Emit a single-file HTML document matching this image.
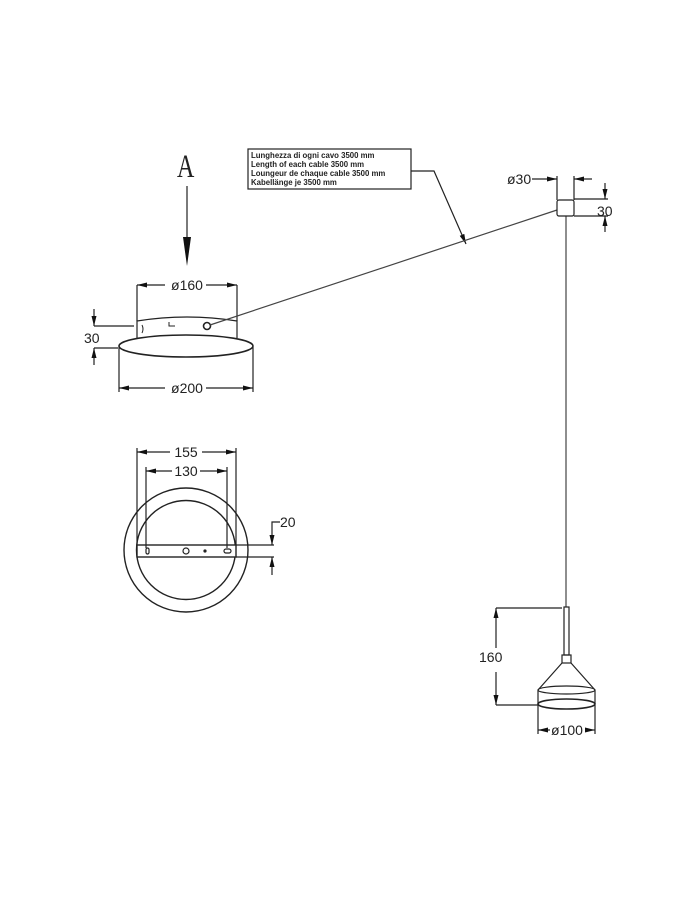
<!DOCTYPE html>
<html><head><meta charset="utf-8"><style>
html,body{margin:0;padding:0;background:#fff;}
svg{display:block;}
text{font-family:"Liberation Sans",sans-serif;fill:#222;}
</style></head><body>
<svg width="700" height="900" viewBox="0 0 700 900" xmlns="http://www.w3.org/2000/svg">
<defs>
<marker id="ar" viewBox="0 0 12 6" refX="12" refY="3" markerWidth="12" markerHeight="5" orient="auto-start-reverse" markerUnits="userSpaceOnUse"><path d="M0,0 L12,3 L0,6Z" fill="#111"/></marker>
</defs>
<g stroke="#222" fill="none" stroke-width="1.2">
<line x1="187" y1="186" x2="187" y2="240"/>
<path d="M183,237 L191,237 L187,266Z" fill="#111" stroke="none"/>
<path d="M137,338 L137,321 Q187,313 237,321 L237,338"/>
<ellipse cx="186" cy="346" rx="67" ry="11" stroke-width="1.6"/>
<path d="M142,325 q2,4 0,8 M169,322 v4 h6" stroke-width="1"/>
<circle cx="207" cy="326" r="3.5" stroke-width="1.6"/>
<line x1="137" y1="285" x2="137" y2="321"/><line x1="237" y1="285" x2="237" y2="321"/>
<line x1="137" y1="285" x2="165" y2="285" marker-start="url(#ar)"/><line x1="206" y1="285" x2="237" y2="285" marker-end="url(#ar)"/>
<line x1="119" y1="347" x2="119" y2="392"/><line x1="253" y1="347" x2="253" y2="392"/>
<line x1="119" y1="388" x2="165" y2="388" marker-start="url(#ar)"/><line x1="206" y1="388" x2="253" y2="388" marker-end="url(#ar)"/>
<line x1="94" y1="326" x2="134" y2="326"/><line x1="94" y1="348" x2="118" y2="348"/>
<line x1="94" y1="309" x2="94" y2="326" marker-end="url(#ar)"/><line x1="94" y1="365" x2="94" y2="348" marker-end="url(#ar)"/>
<rect x="248" y="149" width="163" height="40" stroke="#222"/>
<polyline points="411,171 434,171 466,244" marker-end="url(#ar)"/>
<line x1="210" y1="325" x2="557" y2="210" stroke="#444"/>
<line x1="566" y1="216" x2="566" y2="607" stroke="#444"/>
<rect x="557" y="200" width="17" height="16" rx="2"/>
<line x1="557" y1="176" x2="557" y2="200"/><line x1="574" y1="176" x2="574" y2="200"/>
<line x1="532" y1="179" x2="557" y2="179" marker-end="url(#ar)"/><line x1="592" y1="179" x2="574" y2="179" marker-end="url(#ar)"/>
<line x1="574" y1="199" x2="608" y2="199"/><line x1="574" y1="216" x2="608" y2="216"/>
<line x1="605" y1="183" x2="605" y2="199" marker-end="url(#ar)"/><line x1="605" y1="232" x2="605" y2="216" marker-end="url(#ar)"/>
<rect x="564" y="607" width="5" height="48"/>
<rect x="562" y="655" width="9" height="8"/>
<path d="M562,663 L538,690 M571,663 L595,690"/>
<ellipse cx="566.5" cy="690" rx="28.5" ry="4"/>
<path d="M538,690 L538,704 M595,690 L595,704"/>
<ellipse cx="566.5" cy="704" rx="28.5" ry="5" stroke-width="1.6"/>
<line x1="496" y1="608" x2="562" y2="608"/><line x1="496" y1="705" x2="538" y2="705"/>
<line x1="496" y1="648" x2="496" y2="608" marker-end="url(#ar)"/><line x1="496" y1="672" x2="496" y2="705" marker-end="url(#ar)"/>
<line x1="538" y1="705" x2="538" y2="734"/><line x1="595" y1="705" x2="595" y2="734"/>
<line x1="550" y1="730" x2="538" y2="730" marker-end="url(#ar)"/><line x1="586" y1="730" x2="595" y2="730" marker-end="url(#ar)"/>
<circle cx="186" cy="550" r="62" stroke-width="1.4"/>
<circle cx="186" cy="550" r="49.5" stroke-width="1.4"/>
<rect x="137" y="545" width="99" height="12" fill="#fff" stroke-width="1.4"/>
<rect x="146" y="548" width="3" height="6" rx="1.5"/>
<circle cx="186" cy="551" r="3"/>
<circle cx="205" cy="551" r="1" fill="#333"/>
<rect x="224" y="549" width="7" height="4" rx="2"/>
<line x1="137" y1="448" x2="137" y2="545"/><line x1="236" y1="448" x2="236" y2="545"/>
<line x1="137" y1="452" x2="170" y2="452" marker-start="url(#ar)"/><line x1="202" y1="452" x2="236" y2="452" marker-end="url(#ar)"/>
<line x1="146" y1="467" x2="146" y2="548"/><line x1="227" y1="467" x2="227" y2="548"/>
<line x1="146" y1="471" x2="172" y2="471" marker-start="url(#ar)"/><line x1="200" y1="471" x2="227" y2="471" marker-end="url(#ar)"/>
<line x1="236" y1="545" x2="274" y2="545"/><line x1="236" y1="557" x2="274" y2="557"/>
<polyline points="280,522 272,522 272,545" marker-end="url(#ar)"/>
<line x1="272" y1="575" x2="272" y2="557" marker-end="url(#ar)"/>
</g>
<text x="0" y="0" font-size="30" transform="translate(177,177) scale(0.8,1.1)" style="font-family:'Liberation Serif',serif">A</text>
<text x="187" y="290" font-size="14" text-anchor="middle">ø160</text>
<text x="187" y="393" font-size="14" text-anchor="middle">ø200</text>
<text x="84" y="343" font-size="14">30</text>
<g font-size="7.8" font-weight="bold">
<text x="251" y="158">Lunghezza di ogni cavo 3500 mm</text>
<text x="251" y="167">Length of each cable 3500 mm</text>
<text x="251" y="176">Loungeur de chaque cable 3500 mm</text>
<text x="251" y="185">Kabellänge je 3500 mm</text>
</g>
<text x="507" y="184" font-size="14">ø30</text>
<text x="597" y="216" font-size="14">30</text>
<text x="479" y="662" font-size="14">160</text>
<text x="567" y="735" font-size="14" text-anchor="middle">ø100</text>
<text x="186" y="457" font-size="14" text-anchor="middle">155</text>
<text x="186" y="476" font-size="14" text-anchor="middle">130</text>
<text x="280" y="527" font-size="14">20</text>
</svg>
</body></html>
